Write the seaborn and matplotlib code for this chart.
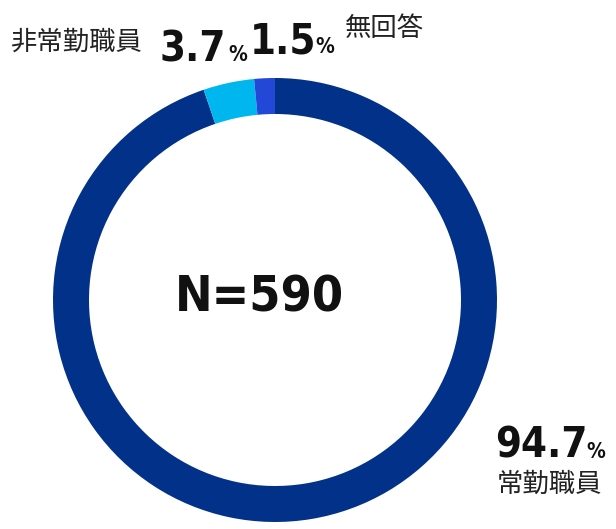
import seaborn as sns
from matplotlib import pyplot as plt

# データ
labels = ['常勤職員', '非常勤職員', '無回答']
shares = [94.7, 3.7, 1.5]
colors = ['#02318a', '#00b6ef', '#2348d8']
n_total = 590

sns.set_theme(style='white')
plt.rcParams['font.family'] = ['Noto Sans CJK JP', 'DejaVu Sans']

W, H = 616, 529
fig = plt.figure(figsize=(W / 100, H / 100), dpi=100)
ax = fig.add_axes([0, 0, 1, 1])

# 12時の位置から時計回り
ax.pie(shares, colors=colors, startangle=90, counterclock=False,
       center=(275, H - 300), radius=222,
       wedgeprops=dict(width=36, edgecolor='none'), frame=True)
ax.set_xlim(0, W)
ax.set_ylim(0, H)
ax.set_aspect('equal')
ax.axis('off')

num_font = dict(family='DejaVu Sans', stretch='condensed', weight='bold', color='#111111')
lab_font = dict(color='#222222', fontsize=19)

def y(px):
    return H - px

# 中央
ax.text(259, y(298), f'N={n_total}', fontsize=36, ha='center', va='center', **num_font)

# 非常勤職員
ax.text(11, y(42), labels[1], ha='left', va='center', **lab_font)
ax.text(160, y(61), f'{shares[1]}', fontsize=30, ha='left', va='baseline', **num_font)
ax.text(228, y(61), '%', fontsize=15, ha='left', va='baseline', **num_font)

# 無回答
ax.text(250, y(53), f'{shares[2]}', fontsize=30, ha='left', va='baseline', **num_font)
ax.text(315, y(53), '%', fontsize=15, ha='left', va='baseline', **num_font)
ax.text(345, y(28), labels[2], ha='left', va='center', **lab_font)

# 常勤職員
ax.text(495, y(458), f'{shares[0]}', fontsize=30, ha='left', va='baseline', **num_font)
ax.text(586, y(458), '%', fontsize=15, ha='left', va='baseline', **num_font)
ax.text(497, y(484), labels[0], ha='left', va='center', **lab_font)

fig.savefig('out.png', dpi=100)
